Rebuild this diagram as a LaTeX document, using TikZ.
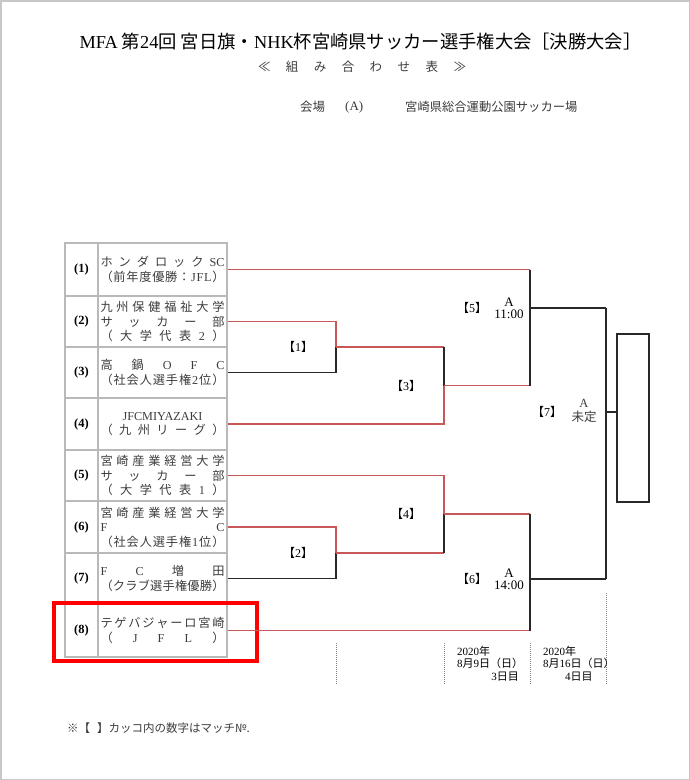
\documentclass[tikz,border=0pt]{standalone}
\usepackage{fontspec}
\setmainfont{Noto Sans CJK JP}
\newfontfamily\latfont{Liberation Serif}
\newcommand\EN[1]{{\latfont #1}}
\newcommand\sq[1]{\makebox[124pt][s]{#1}}
\definecolor{redln}{RGB}{200,88,88}
\definecolor{blkln}{RGB}{40,40,40}
\definecolor{tblgray}{RGB}{185,185,185}
\definecolor{txt}{RGB}{60,60,60}
\definecolor{framegray}{RGB}{200,200,200}
\begin{document}
\begin{tikzpicture}[x=1pt,y=-1pt,
  redline/.style={draw=redln,line width=1.3pt},
  blackline/.style={draw=blkln,line width=1.3pt},
  dotline/.style={draw=gray,line width=1pt,dash pattern=on 1pt off 1pt},
  numcell/.style={draw=tblgray,line width=1.2pt,minimum width=33pt,inner sep=0pt,
     font=\latfont\fontsize{12.5}{14}\selectfont\bfseries,text=black},
  teamcell/.style={draw=tblgray,line width=1.2pt,minimum width=129pt,inner sep=0pt,
     align=center,font=\fontsize{12.2}{14.5}\selectfont,text=txt},
  mlabel/.style={inner sep=0pt,font=\fontsize{12}{14}\selectfont,text=black},
  timelabel/.style={inner sep=0pt,align=center,font=\fontsize{13}{12}\selectfont,text=black},
  datelabel/.style={inner sep=0pt,anchor=west,font=\fontsize{11}{12}\selectfont,text=black},
  plain/.style={inner sep=0pt,text=black}]
\useasboundingbox (0,0) rectangle (690,780);
\draw[draw=framegray,line width=1.5pt] (0.75,0.75) rectangle (689.25,779.25);

% title
\node[plain,font=\fontsize{18.3}{20}\selectfont] (title) at (360.5,42)
  {\EN{MFA} 第\EN{24}回 宮日旗・\EN{NHK}杯宮崎県サッカー選手権大会［決勝大会］};
\node[plain,font=\fontsize{12.5}{14}\selectfont,text=txt] (sub) at (362,67)
  {\makebox[208pt][s]{≪\hfill 組\hfill み\hfill 合\hfill わ\hfill せ\hfill 表\hfill ≫}};
\node[plain,anchor=west,font=\fontsize{12.5}{14}\selectfont,text=txt] (v1) at (300,107) {会場};
\node[plain,anchor=west,font=\latfont\fontsize{13}{14}\selectfont,text=txt] (v2) at (345,107) {(A)};
\node[plain,anchor=west,font=\fontsize{12.3}{14}\selectfont,text=txt] (v3) at (405,107) {宮崎県総合運動公園サッカー場};

% table
\node[numcell,minimum height=53pt] (n1) at (81.5,269.5) {(1)};
\node[numcell,minimum height=51pt] (n2) at (81.5,321.5) {(2)};
\node[numcell,minimum height=51pt] (n3) at (81.5,372.5) {(3)};
\node[numcell,minimum height=52pt] (n4) at (81.5,424) {(4)};
\node[numcell,minimum height=51pt] (n5) at (81.5,475.5) {(5)};
\node[numcell,minimum height=52pt] (n6) at (81.5,527) {(6)};
\node[numcell,minimum height=51pt] (n7) at (81.5,578.5) {(7)};
\node[numcell,minimum height=53pt] (n8) at (81.5,630.5) {(8)};

\node[teamcell,minimum height=53pt] (t1) at (162.5,269.5)
 {\sq{ホ\hfill ン\hfill ダ\hfill ロ\hfill ッ\hfill ク\hfill \EN{SC}}\\
  \sq{（\hfill 前\hfill 年\hfill 度\hfill 優\hfill 勝\hfill ：\hfill \EN{J}\hfill \EN{F}\hfill \EN{L}\hfill ）}};
\node[teamcell,minimum height=51pt] (t2) at (162.5,321.5)
 {\sq{九\hfill 州\hfill 保\hfill 健\hfill 福\hfill 祉\hfill 大\hfill 学}\\
  \sq{サ\hfill ッ\hfill カ\hfill ー\hfill 部}\\
  \sq{（\hfill 大\hfill 学\hfill 代\hfill 表\hfill \EN{2}\hfill ）}};
\node[teamcell,minimum height=51pt] (t3) at (162.5,372.5)
 {\sq{高\hfill 鍋\hfill \EN{O}\hfill \EN{F}\hfill \EN{C}}\\
  \sq{（\hfill 社\hfill 会\hfill 人\hfill 選\hfill 手\hfill 権\hfill \EN{2}\hfill 位\hfill ）}};
\node[teamcell,minimum height=52pt] (t4) at (162.5,424)
 {\EN{JFCMIYAZAKI}\\
  \sq{（\hfill 九\hfill 州\hfill リ\hfill ー\hfill グ\hfill ）}};
\node[teamcell,minimum height=51pt] (t5) at (162.5,475.5)
 {\sq{宮\hfill 崎\hfill 産\hfill 業\hfill 経\hfill 営\hfill 大\hfill 学}\\
  \sq{サ\hfill ッ\hfill カ\hfill ー\hfill 部}\\
  \sq{（\hfill 大\hfill 学\hfill 代\hfill 表\hfill \EN{1}\hfill ）}};
\node[teamcell,minimum height=52pt] (t6) at (162.5,527)
 {\sq{宮\hfill 崎\hfill 産\hfill 業\hfill 経\hfill 営\hfill 大\hfill 学}\\
  \sq{\EN{F}\hfill \EN{C}}\\
  \sq{（\hfill 社\hfill 会\hfill 人\hfill 選\hfill 手\hfill 権\hfill \EN{1}\hfill 位\hfill ）}};
\node[teamcell,minimum height=51pt] (t7) at (162.5,578.5)
 {\sq{\EN{F}\hfill \EN{C}\hfill 増\hfill 田}\\
  \sq{（\hfill ク\hfill ラ\hfill ブ\hfill 選\hfill 手\hfill 権\hfill 優\hfill 勝\hfill ）}};
\node[teamcell,minimum height=53pt] (t8) at (162.5,630.5)
 {\sq{テ\hfill ゲ\hfill バ\hfill ジ\hfill ャ\hfill ー\hfill ロ\hfill 宮\hfill 崎}\\
  \sq{（\hfill \EN{J}\hfill \EN{F}\hfill \EN{L}\hfill ）}};

% highlight box
\node[draw=red,line width=4pt,minimum width=203pt,minimum height=58pt,inner sep=0pt] (hl) at (155.5,632) {};

% bracket junctions
\coordinate (m1t) at (336,321.5); \coordinate (m1o) at (336,347); \coordinate (m1b) at (336,372.5);
\coordinate (m2t) at (336,527);   \coordinate (m2o) at (336,553); \coordinate (m2b) at (336,578.5);
\coordinate (m3t) at (444,347);   \coordinate (m3o) at (444,385.5); \coordinate (m3b) at (444,424);
\coordinate (m4t) at (444,475.5); \coordinate (m4o) at (444,514); \coordinate (m4b) at (444,553);
\coordinate (m5t) at (530,269.5); \coordinate (m5o) at (530,308); \coordinate (m5b) at (530,385.5);
\coordinate (m6t) at (530,514);   \coordinate (m6o) at (530,579); \coordinate (m6b) at (530,630.5);
\coordinate (m7t) at (606,308);   \coordinate (m7o) at (606,412); \coordinate (m7b) at (606,579);

\node[draw=blkln,line width=1.3pt,minimum width=32pt,minimum height=168pt,inner sep=0pt] (win) at (633,418) {};

% match 1
\draw[redline] (t2.east) -- (m1t) -- (m1o);
\draw[blackline] (m1o) -- (m1b) -- (t3.east);
\draw[redline] (m1o) -- (m3t);
% match 2
\draw[redline] (t6.east) -- (m2t) -- (m2o);
\draw[blackline] (m2o) -- (m2b) -- (t7.east);
\draw[redline] (m2o) -- (m4b);
% match 3
\draw[blackline] (m3t) -- (m3o);
\draw[redline] (m3o) -- (m3b) -- (t4.east);
\draw[redline] (m3o) -- (m5b);
% match 4
\draw[redline] (t5.east) -- (m4t) -- (m4o);
\draw[blackline] (m4o) -- (m4b);
\draw[redline] (m4o) -- (m6t);
% match 5
\draw[redline] (t1.east) -- (m5t);
\draw[blackline] (m5t) -- (m5b);
\draw[blackline] (m5o) -- (m7t);
% match 6
\draw[redline] (t8.east) -- (m6b);
\draw[blackline] (m6t) -- (m6b);
\draw[blackline] (m6o) -- (m7b);
% match 7
\draw[blackline] (m7t) -- (m7b);
\draw[blackline] (m7o) -- (m7o -| win.west);

% match labels
\node[mlabel] (l1) at (298,347) {【\EN{1}】};
\node[mlabel] (l2) at (298,553) {【\EN{2}】};
\node[mlabel] (l3) at (406,386) {【\EN{3}】};
\node[mlabel] (l4) at (406,514) {【\EN{4}】};
\node[mlabel] (l5) at (472,308) {【\EN{5}】};
\node[mlabel] (l6) at (472,579) {【\EN{6}】};
\node[mlabel] (l7) at (547,412) {【\EN{7}】};
\node[timelabel] (a5) at (509,308) {\EN{A}\\\EN{11:00}};
\node[timelabel] (a6) at (509,579) {\EN{A}\\\EN{14:00}};
\node[timelabel,font=\fontsize{12.5}{14}\selectfont,text=txt] (a7) at (584,411) {\EN{A}\\未定};

% dotted day separators
\coordinate (d1a) at (336,643); \coordinate (d1b) at (336,684);
\coordinate (d2a) at (444,643); \coordinate (d2b) at (444,684);
\coordinate (d3a) at (530,643); \coordinate (d3b) at (530,684);
\coordinate (d4a) at (606,593); \coordinate (d4b) at (606,684);
\draw[dotline] (d1a) -- (d1b);
\draw[dotline] (d2a) -- (d2b);
\draw[dotline] (d3a) -- (d3b);
\draw[dotline] (d4a) -- (d4b);

% dates
\node[datelabel] (y1) at (457,651) {\EN{2020}年};
\node[datelabel] (dt1) at (457,663) {\EN{8}月\EN{9}日（日）};
\node[datelabel,anchor=east] (dy1) at (519,677) {\EN{3}日目};
\node[datelabel] (y2) at (543,651) {\EN{2020}年};
\node[datelabel] (dt2) at (543,663) {\EN{8}月\EN{16}日（日）};
\node[datelabel] (dy2) at (565,677) {\EN{4}日目};

% footnote
\node[plain,anchor=west,font=\fontsize{11.5}{13}\selectfont,text=txt] (foot) at (67,728) {※【\hspace{0.6em}】カッコ内の数字はマッチ№.};
\end{tikzpicture}
\end{document}
